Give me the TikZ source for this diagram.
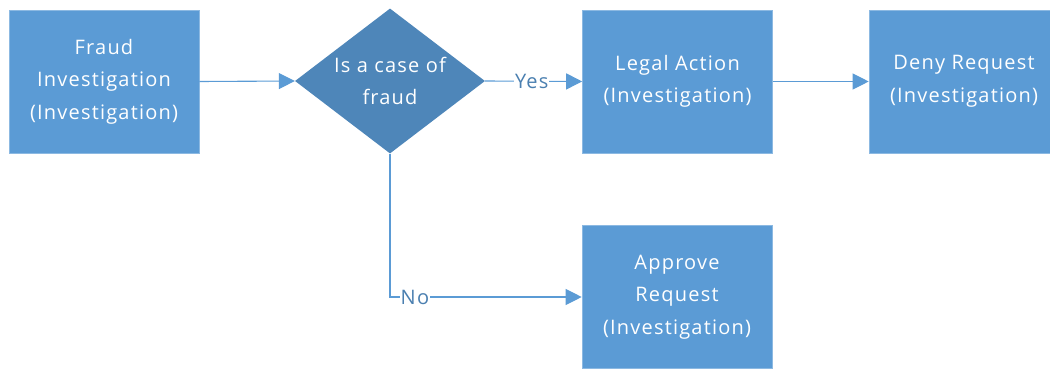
\documentclass[tikz,border=0pt]{standalone}
\usepackage{fontspec}
\setmainfont{Open Sans}[LetterSpace=6]
\usetikzlibrary{arrows.meta,shapes.geometric}
\definecolor{boxblue}{HTML}{5B9BD5}
\definecolor{diablue}{HTML}{4E86B9}
\definecolor{linkblue}{HTML}{5B9BD5}
\definecolor{labblue}{HTML}{4A7FB0}
\tikzset{
  stepbox/.style={rectangle, fill=boxblue, draw=boxblue!70!white, line width=0.6pt, minimum width=190pt, minimum height=143pt, align=center, text=white, font=\fontsize{20}{32.5}\selectfont, inner sep=0pt},
  decbox/.style={diamond, fill=diablue, minimum width=190pt, minimum height=145pt, align=center, text=white, font=\fontsize{20}{32.5}\selectfont, inner sep=0pt, aspect=1.31},
  link/.style={draw=linkblue, line width=1.1pt, -{Triangle[length=16pt,width=16pt]}},
  lab/.style={fill=white, text=labblue, font=\fontsize{20}{22}\selectfont, inner sep=1pt}
}
\begin{document}
\begin{tikzpicture}[x=1pt,y=-1pt]
\useasboundingbox (0,0) rectangle (1050,369);
\node[stepbox] (fraud) at (104,81.5) {Fraud\\Investigation\\(Investigation)};
\node[decbox] (dec) at (390,81) {Is a case of\\fraud};
\node[stepbox] (legal) at (677.5,81.5) {Legal Action\\(Investigation)};
\node[stepbox] (deny) at (964,81.5) {Deny Request\\(Investigation)};
\node[stepbox] (approve) at (677,297) {Approve\\Request\\(Investigation)};
\coordinate (bend) at (dec.south |- approve.west);
\draw[link] (fraud.east) -- (dec.west);
\draw[link] (dec.east) -- node[lab, pos=0.48] {Yes} (legal.west);
\draw[link] (legal.east) -- (deny.west);
\draw[link] (dec.south) -- (bend) -- node[lab, pos=0.13] {No} (approve.west);
\end{tikzpicture}
\end{document}
